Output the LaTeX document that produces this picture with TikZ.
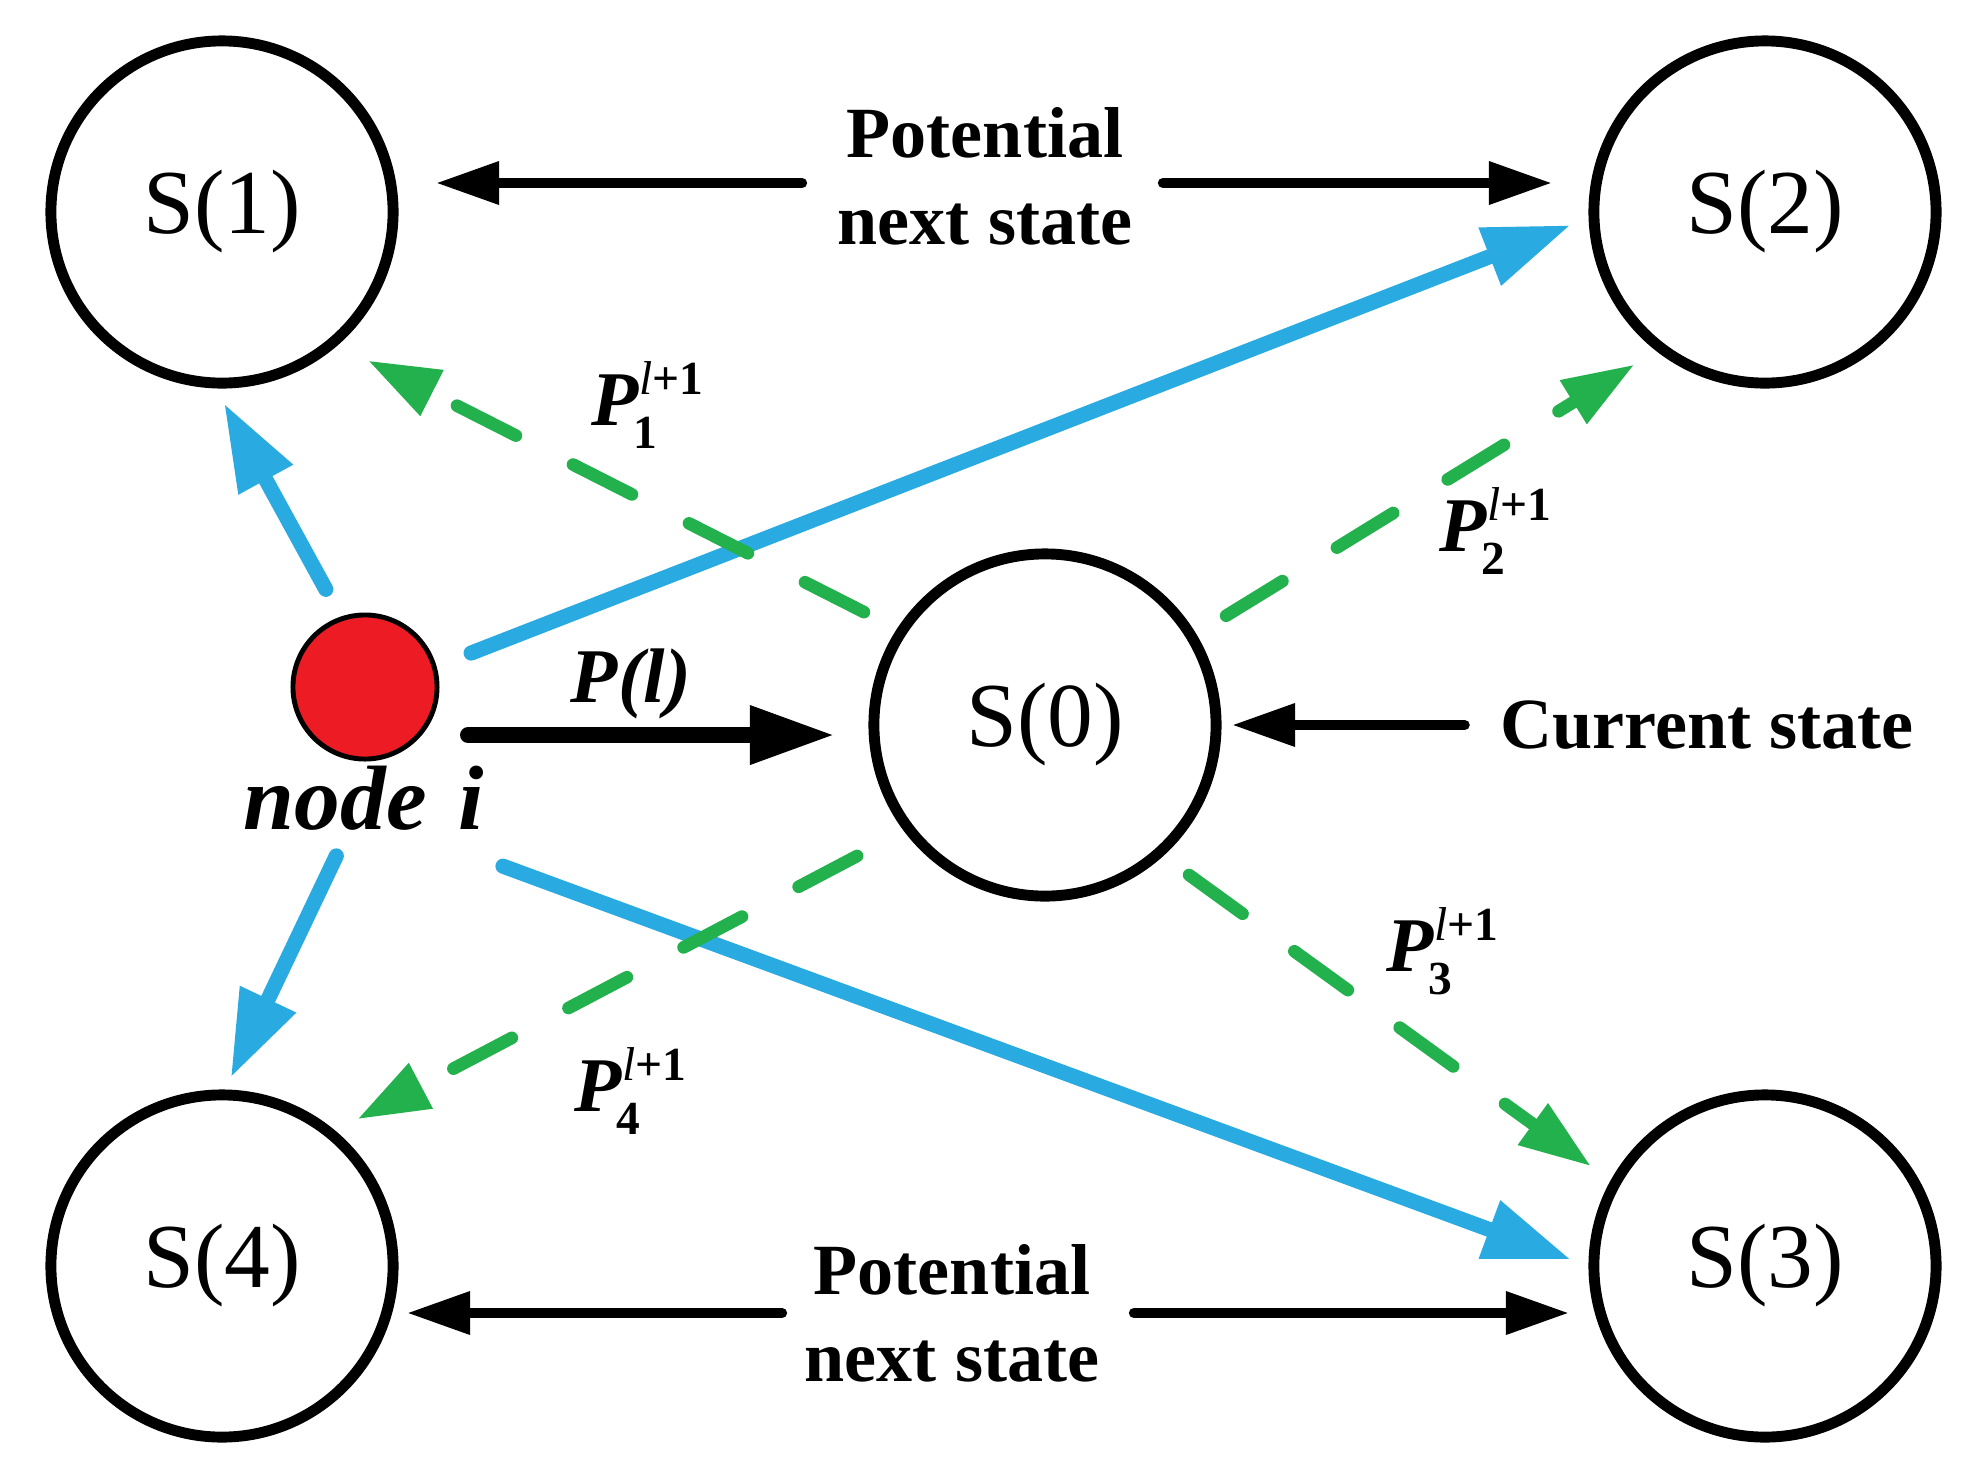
\documentclass[tikz,border=0pt]{standalone}
\usepackage{fontspec}
\setmainfont{Liberation Serif}
\usepackage{amsmath}
\usetikzlibrary{arrows.meta}
\definecolor{skyblue}{RGB}{41,171,226}
\definecolor{leafgreen}{RGB}{34,177,76}
\definecolor{nodered}{RGB}{237,28,36}
\DeclareMathSizes{22}{22}{13.5}{10}
\newcommand{\plabel}[1]{$\textbf{\textit{P}}^{\textit{l}\textbf{+1}}_{\hspace{-1.5pt}\raisebox{-1.5pt}{\fontsize{13.5}{14}\selectfont\bfseries #1}}$}

\tikzset{
  state/.style={circle, draw, line width=3.1pt, minimum size=3.42cm, inner sep=0pt, font=\fontsize{26}{30}\selectfont},
  bluearr/.style={draw=skyblue, line width=4.3pt, line cap=round, -{Triangle[length=0.87cm,width=0.58cm]}},
  greenarr/.style={draw=leafgreen, line width=3.6pt, line cap=round, dash pattern=on 0.66cm off 0.64cm, -{Triangle[length=0.72cm,width=0.48cm]}},
  blackarr/.style={line width=2.85pt, line cap=round, -{Triangle[length=0.63cm,width=0.41cm]}},
  plarr/.style={line width=4.55pt, line cap=round, -{Triangle[length=0.85cm,width=0.55cm]}},
  boldtxt/.style={font=\fontsize{20.5}{24.75}\selectfont\bfseries, inner sep=0pt, align=center},
  plbl/.style={font=\fontsize{22}{26}\selectfont, inner sep=0pt}
}

\begin{document}
\begin{tikzpicture}[x=0.01cm, y=-0.01cm]
\useasboundingbox (0,0) rectangle (1968,1475);
% states
\node[state] (S1) at (222,212) {S(1)};
\node[state] (S2) at (1765,212) {S(2)};
\node[state] (S0) at (1045,725) {S(0)};
\node[state] (S3) at (1765,1266) {S(3)};
\node[state] (S4) at (222,1266) {S(4)};
% node i
\node[circle, draw, fill=nodered, line width=1.4pt, minimum size=1.44cm, inner sep=0pt] (nodei) at (365,687) {};
\node[anchor=base, inner sep=0pt, font=\fontsize{26}{30}\selectfont\bfseries\itshape] (nodelbl) at (364,829) {node\hspace{0.35em}i};
% texts
\node[boldtxt] (pot1) at (985,176) {Potential\\next state};
\node[boldtxt] (pot2) at (952,1313) {Potential\\next state};
\node[boldtxt] (curr) at (1707,725) {Current state};
% labels
\node[plbl] (pl) at (631,684) {\bfseries\itshape P(l)};
\node[plbl] (p1) at (648,405) {\plabel{1}};
\node[plbl] (p2) at (1496,531) {\plabel{2}};
\node[plbl] (p3) at (1443,951) {\plabel{3}};
\node[plbl] (p4) at (631,1091) {\plabel{4}};

% blue moves of node i
\draw[bluearr, shorten <=0.31cm, shorten >=0.17cm] (nodei.109) -- (S1.268);
\draw[bluearr, shorten <=0.37cm, shorten >=0.19cm] (nodei.16) -- (S2.182);
\draw[bluearr, shorten <=0.28cm, shorten >=0.13cm] (nodelbl) -- (S4.89);
\draw[bluearr, shorten <=1.48cm, shorten >=0.185cm] ([yshift=0.14cm]nodelbl.base) -- (S3.west);

% green transitions from S(0)
\draw[greenarr, shorten <=0.37cm, shorten >=0.336cm] (S0.147) -- (S1.311);
\draw[greenarr, shorten <=0.35cm, shorten >=0.255cm] (S0.31) -- (S2.232);
\draw[greenarr, shorten <=0.32cm, shorten >=0.24cm] (S0.312) -- (S3.151);
\draw[greenarr, shorten <=0.53cm, shorten >=0.245cm] (S0.217) -- (S4.50);

% black pointers
\draw[blackarr, shorten <=0.35cm, shorten >=0.375cm] ([yshift=-0.07cm]pot1.west) -- ([yshift=-0.07cm]pot1.west -| S1.east);
\draw[blackarr, shorten <=0.30cm, shorten >=0.365cm] ([yshift=-0.07cm]pot1.east) -- ([yshift=-0.07cm]pot1.east -| S2.west);
\draw[blackarr, shorten <=0.22cm, shorten >=0.085cm] (pot2.west) -- (pot2.west -| S4.east);
\draw[blackarr, shorten <=0.34cm, shorten >=0.195cm] (pot2.east) -- (pot2.east -| S3.west);
\draw[blackarr, shorten <=0.35cm, shorten >=0.105cm] (curr.west) -- (S0.east);
\draw[plarr, shorten <=0.285cm, shorten >=0.335cm] ([yshift=-0.48cm]nodei.east) -- ([yshift=-0.48cm]nodei.east -| S0.west);
\end{tikzpicture}
\end{document}
